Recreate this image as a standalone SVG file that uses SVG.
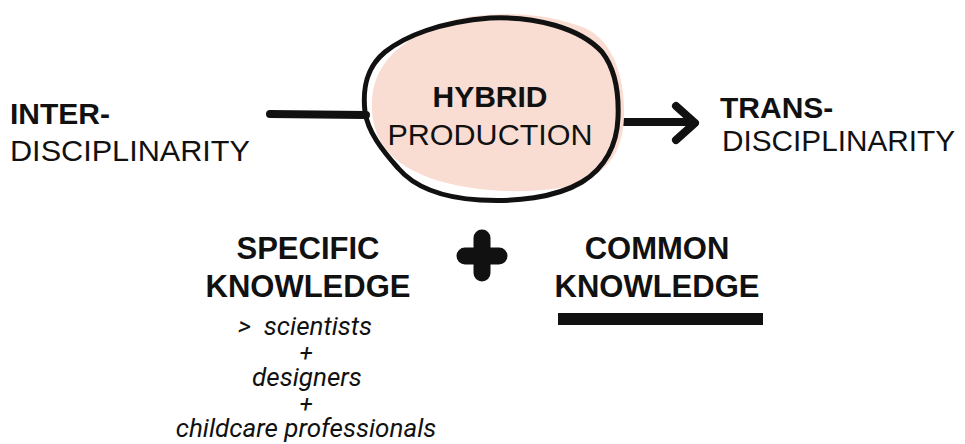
<svg xmlns="http://www.w3.org/2000/svg" width="965" height="444" viewBox="0 0 965 444">
<style>
.t{font-family:"Liberation Sans",Arial,sans-serif;font-size:30px;fill:#111}
.b{font-weight:bold}
.h{font-family:"Liberation Sans",Arial,sans-serif;font-size:31px;font-weight:bold;fill:#111;text-anchor:middle}
.i{font-family:Roboto,"Liberation Sans",sans-serif;font-style:italic;font-size:26px;fill:#111;text-anchor:middle}
.p{font-family:Roboto,"Liberation Sans",sans-serif;font-style:italic;font-size:24px;fill:#111;text-anchor:middle}
.ln{fill:none;stroke:#111;stroke-width:8;stroke-linecap:round;stroke-linejoin:round}
</style>
<rect width="965" height="444" fill="#fff"/>
<g id="connectors">
<path class="ln" d="M270 114 L366 115"/>
<path class="ln" d="M616 122 L691 122"/>
<path class="ln" d="M676 106 L695 123 L676 140"/>
</g>
<g id="hybrid">
<path d="M372 110 C370 70 392 45 440 24 C480 10 540 10 585 28 C615 42 625 80 624 118 C622 160 600 180 560 188 C520 194 470 192 430 178 C395 165 374 145 372 110 Z" fill="#F9DDD2"/>
<path d="M365 112 C362 85 368 66 385 52 C405 36 440 22 490 18 C535 16 580 28 602 52 C616 70 619 95 618 118 C617 145 605 168 582 182 C555 198 515 202 480 200 C445 198 415 188 398 168 C382 150 368 132 365 112 Z" fill="none" stroke="#111" stroke-width="5" stroke-linejoin="round"/>
<text class="t b" x="490" y="107" text-anchor="middle">HYBRID</text>
<text class="t" x="490" y="145" text-anchor="middle" textLength="205" lengthAdjust="spacingAndGlyphs">PRODUCTION</text>
</g>
<g id="inter">
<text class="t b" x="10" y="124">INTER-</text>
<text class="t" x="10" y="161" textLength="240" lengthAdjust="spacingAndGlyphs">DISCIPLINARITY</text>
</g>
<g id="trans">
<text class="t b" x="720" y="118">TRANS-</text>
<text class="t" x="722" y="151" textLength="233" lengthAdjust="spacingAndGlyphs">DISCIPLINARITY</text>
</g>
<g id="plus">
<path d="M465 256 L499 256 M482 238 L482 273" fill="none" stroke="#111" stroke-width="17" stroke-linecap="round"/>
</g>
<g id="specific">
<text class="h" x="308" y="259">SPECIFIC</text>
<text class="h" x="308" y="297">KNOWLEDGE</text>
<text class="i" x="305" y="335" xml:space="preserve">&gt;  scientists</text>
<text class="p" x="306" y="361">+</text>
<text class="i" x="307" y="386">designers</text>
<text class="p" x="306" y="412">+</text>
<text class="i" x="306" y="437">childcare professionals</text>
</g>
<g id="common">
<text class="h" x="657" y="259">COMMON</text>
<text class="h" x="657" y="297">KNOWLEDGE</text>
<rect x="558" y="313" width="205" height="12" fill="#111"/>
</g>
</svg>
